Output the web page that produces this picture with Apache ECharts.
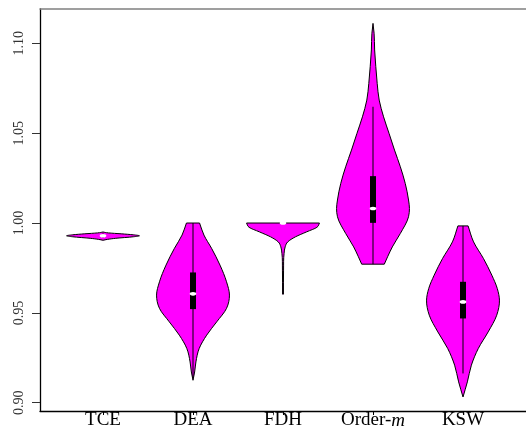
<!DOCTYPE html>
<html>
<head>
<meta charset="utf-8">
<script src="https://cdn.jsdelivr.net/npm/echarts@6/dist/echarts.min.js"></script>
<style>
html,body{margin:0;padding:0;background:#fff;}
#chart{width:526px;height:430px;}
</style>
</head>
<body>
<div id="chart"></div>
<script>
// ---- data ----
const categories = ['TCE', 'DEA', 'FDH', 'Order-m', 'KSW'];
const yTicks = [0.90, 0.95, 1.00, 1.05, 1.10];

// violin outlines: levels (ascending) and relative density (0..1)
const tceLevels  = [0.9904, 0.9909, 0.9915, 0.99235, 0.9929, 0.99345, 0.9940, 0.9945, 0.9950];
const tceDensity = [0, 0.12, 0.35, 0.83, 1.0, 0.83, 0.5, 0.15, 0];

const deaLevels  = [0.9125, 0.9171, 0.9227, 0.9302, 0.9376, 0.9450, 0.9525, 0.9599, 0.9673, 0.9766, 0.9859, 0.9933, 1.0000];
const deaDensity = [0, 0.045, 0.08, 0.17, 0.375, 0.65, 0.92, 1.0, 0.92, 0.74, 0.51, 0.30, 0.18];

const fdhLevels  = [0.9604, 0.9738, 0.9831, 0.9868, 0.9895, 0.9923, 0.9951, 0.9976, 1.0000];
const fdhDensity = [0.012, 0.015, 0.03, 0.06, 0.13, 0.34, 0.65, 0.93, 1.0];

const ordLevels  = [0.9771, 0.9812, 0.9867, 0.9942, 1.0035, 1.0081, 1.0128, 1.0220, 1.0313, 1.0406, 1.0499, 1.0591, 1.0684, 1.0777, 1.0870, 1.0963, 1.1056, 1.1111];
const ordDensity = [0.31, 0.40, 0.53, 0.75, 0.975, 1.0, 0.975, 0.885, 0.75, 0.59, 0.44, 0.29, 0.17, 0.115, 0.077, 0.045, 0.03, 0];

const kswLevels  = [0.9032, 0.9116, 0.9209, 0.9302, 0.9394, 0.9487, 0.9571, 0.9636, 0.9710, 0.9803, 0.9895, 0.9984];
const kswDensity = [0, 0.12, 0.23, 0.42, 0.69, 0.925, 1.0, 0.94, 0.79, 0.56, 0.29, 0.14];

// box-plot summaries
const q1Values      = [0.9927, 0.9521, 1.0000, 1.0001, 0.9469];
const medianValues  = [0.9929, 0.9606, 1.0000, 1.0081, 0.9561];
const q3Values      = [0.9932, 0.9725, 1.0000, 1.0261, 0.9673];
const whiskerLow    = [0.9918, 0.9140, 1.0000, 0.9771, 0.9163];
const whiskerHigh   = [0.9942, 1.0000, 1.0000, 1.0647, 0.9984];

const violins = [
  {levels: tceLevels, density: tceDensity},
  {levels: deaLevels, density: deaDensity},
  {levels: fdhLevels, density: fdhDensity},
  {levels: ordLevels, density: ordDensity},
  {levels: kswLevels, density: kswDensity}
];

// ---- drawing ----
const HALF = 0.405; // max half-width of a violin, in x-axis units
const FONT = '"Liberation Serif", "DejaVu Serif", serif';

// smooth (non-monotone) Hermite slopes of density over level
function slopes(xs, ys) {
  const n = xs.length, d = [], h = [], m = [];
  for (let i = 0; i < n - 1; i++) {
    h.push(xs[i + 1] - xs[i]);
    d.push((ys[i + 1] - ys[i]) / h[i]);
  }
  m[0] = d[0]; m[n - 1] = d[n - 2];
  for (let i = 1; i < n - 1; i++) {
    m[i] = (d[i - 1] * h[i] + d[i] * h[i - 1]) / (h[i - 1] + h[i]);
  }
  return m;
}

function renderItem(params, api) {
  const i = params.dataIndex;
  const pos = api.value(0);
  const lv = violins[i].levels, dn = violins[i].density, n = lv.length;
  const m = slopes(lv, dn);
  const P = (side, val, w) => api.coord([pos + side * Math.max(w, 0) * HALF, val]);
  const f = p => p[0].toFixed(2) + ' ' + p[1].toFixed(2);
  let d = 'M' + f(P(1, lv[0], dn[0]));
  for (let k = 0; k < n - 1; k++) {
    const h = lv[k + 1] - lv[k];
    d += ' C' + f(P(1, lv[k] + h / 3, dn[k] + m[k] * h / 3)) + ' ' +
         f(P(1, lv[k + 1] - h / 3, dn[k + 1] - m[k + 1] * h / 3)) + ' ' +
         f(P(1, lv[k + 1], dn[k + 1]));
  }
  d += ' L' + f(P(-1, lv[n - 1], dn[n - 1]));
  for (let k = n - 1; k > 0; k--) {
    const h = lv[k] - lv[k - 1];
    d += ' C' + f(P(-1, lv[k] - h / 3, dn[k] - m[k] * h / 3)) + ' ' +
         f(P(-1, lv[k - 1] + h / 3, dn[k - 1] + m[k - 1] * h / 3)) + ' ' +
         f(P(-1, lv[k - 1], dn[k - 1]));
  }
  d += ' Z';

  const wHi = api.coord([pos, whiskerHigh[i]]);
  const wLo = api.coord([pos, whiskerLow[i]]);
  const bTop = api.coord([pos, q3Values[i]]);
  const bBot = api.coord([pos, q1Values[i]]);
  const med = api.coord([pos, medianValues[i]]);

  return {
    type: 'group',
    children: [
      {type: 'path', shape: {pathData: d},
       style: {fill: '#FF00FF', stroke: '#000', lineWidth: 1}},
      {type: 'line', shape: {x1: wHi[0], y1: wHi[1], x2: wLo[0], y2: wLo[1]},
       style: {stroke: '#000', lineWidth: 1}},
      {type: 'rect', shape: {x: bTop[0] - 3, y: bTop[1], width: 6, height: Math.max(bBot[1] - bTop[1], 0)},
       style: {fill: '#000'}},
      {type: 'circle', x: med[0], y: med[1], scaleY: 0.55, shape: {cx: 0, cy: 0, r: 3.3},
       style: {fill: '#fff'}}
    ]
  };
}

const chart = echarts.init(document.getElementById('chart'), null, {renderer: 'canvas'});
chart.setOption({
  animation: false,
  backgroundColor: '#fff',
  grid: {left: 40, right: 0, top: 9, bottom: 19, containLabel: false},
  xAxis: [{
    type: 'value', min: 0.3, max: 5.7, position: 'bottom',
    splitLine: {show: false},
    axisLine: {show: true, onZero: false, lineStyle: {color: '#000', width: 1.3}},
    axisTick: {show: true, customValues: [1, 2, 3, 4, 5], length: 4, lineStyle: {color: '#000', width: 1}},
    axisLabel: {
      customValues: [1, 2, 3, 4, 5], margin: 0,
      fontFamily: FONT, fontSize: 19, color: '#000',
      formatter: v => {
        const c = categories[Math.round(v) - 1];
        return c === 'Order-m' ? 'Order-{it|m}' : c;
      },
      rich: {it: {fontFamily: FONT, fontSize: 19, fontStyle: 'italic', color: '#000'}}
    }
  }, {
    type: 'value', min: 0.3, max: 5.7, position: 'top',
    splitLine: {show: false},
    axisLine: {show: true, onZero: false, lineStyle: {color: '#808080', width: 1.5}},
    axisTick: {show: false}, axisLabel: {show: false}
  }],
  yAxis: {
    type: 'value', min: 0.8954, max: 1.1191,
    splitLine: {show: false},
    axisLine: {show: true, onZero: false, lineStyle: {color: '#000', width: 1.3}},
    axisTick: {show: true, customValues: yTicks, length: 8, lineStyle: {color: '#333', width: 1}},
    axisLabel: {
      customValues: yTicks, rotate: 90, margin: 14,
      fontFamily: FONT, fontSize: 14, color: '#333',
      formatter: v => v.toFixed(2)
    }
  },
  series: [{
    type: 'custom',
    xAxisIndex: 0,
    renderItem: renderItem,
    encode: {x: 0, y: 1},
    data: categories.map((c, i) => [i + 1, medianValues[i]]),
    clip: false
  }]
});
</script>
</body>
</html>
